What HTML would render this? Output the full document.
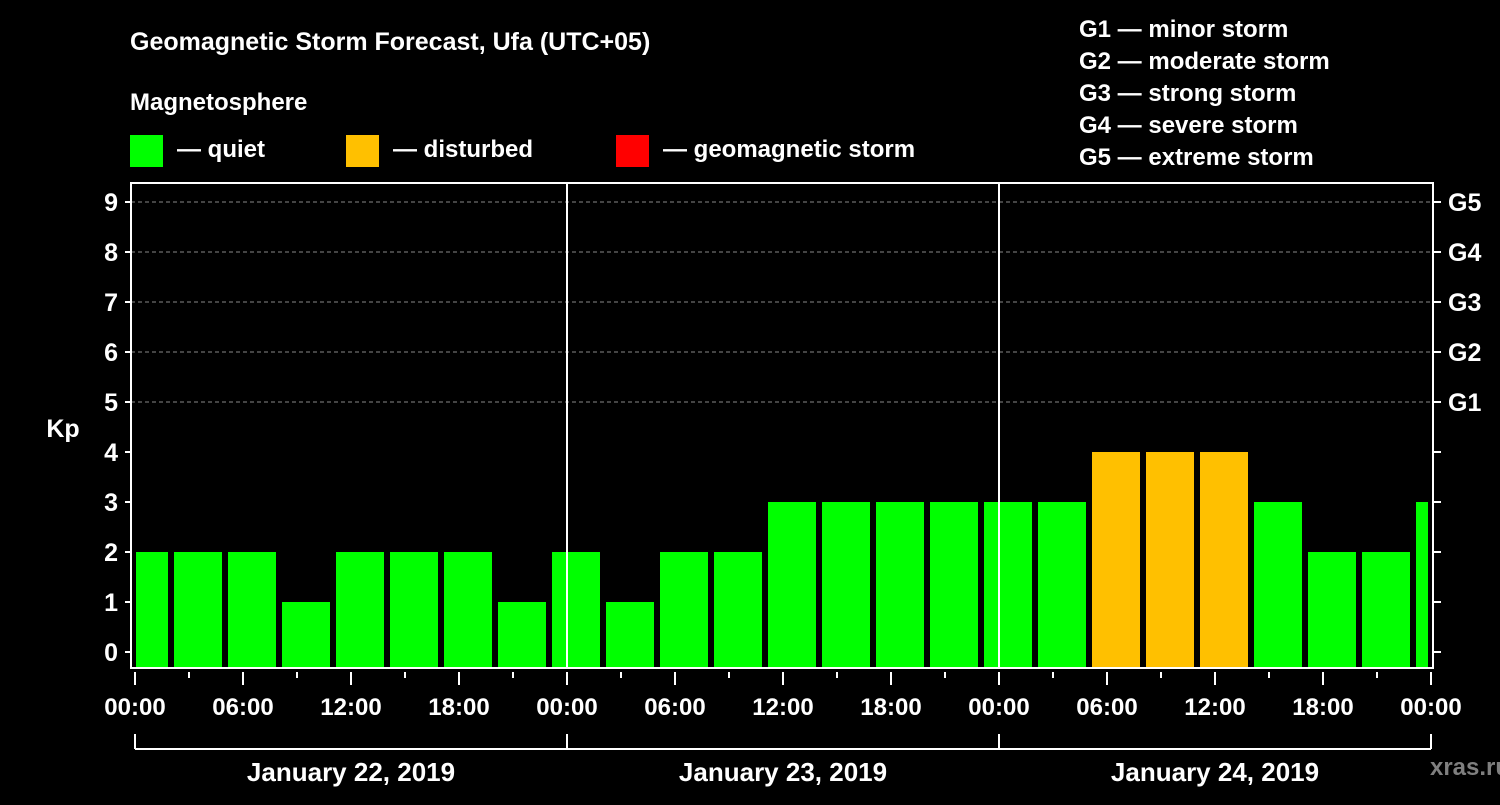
<!DOCTYPE html>
<html><head><meta charset="utf-8"><style>
body{margin:0;background:#000;width:1500px;height:800px;overflow:hidden}
svg text{font-family:"Liberation Sans",Arial,sans-serif;font-weight:bold;fill:#fff}
</style></head><body>
<svg id="c" width="1500" height="800">
<rect width="1500" height="800" fill="#000"/>
<text x="130" y="50" font-size="25">Geomagnetic Storm Forecast, Ufa (UTC+05)</text>
<text x="130" y="110" font-size="24">Magnetosphere</text>
<rect x="130" y="135" width="33" height="32" fill="#00ff00"/>
<text x="177" y="157" font-size="24">— quiet</text>
<rect x="346" y="135" width="33" height="32" fill="#ffc000"/>
<text x="393" y="157" font-size="24">— disturbed</text>
<rect x="616" y="135" width="33" height="32" fill="#ff0000"/>
<text x="663" y="157" font-size="24">— geomagnetic storm</text>
<g font-size="24">
<text x="1079" y="37">G1 — minor storm</text>
<text x="1079" y="69">G2 — moderate storm</text>
<text x="1079" y="101">G3 — strong storm</text>
<text x="1079" y="133">G4 — severe storm</text>
<text x="1079" y="165">G5 — extreme storm</text>
</g>
<text x="63" y="437" font-size="25" text-anchor="middle">Kp</text>
<text x="1470" y="775" font-size="24" text-anchor="middle" fill="#888" style="fill:#7f7f7f">xras.ru</text>
<g id="plot"></g>
</svg>
<script>
const kpValues=[2,2,2,1,2,2,2,1, 2,1,2,2,3,3,3,3, 3,3,4,4,4,3,2,2,3];
const hourLabels=["00:00","06:00","12:00","18:00"];
const dayLabels=["January 22, 2019","January 23, 2019","January 24, 2019"];
const gLabels=["G1","G2","G3","G4","G5"];
const L=131,R=1433,T=183,B=668,X0=135,PXH=18;
const xs=h=>X0+h*PXH, ys=k=>652-50*k;
const NS="http://www.w3.org/2000/svg",g=document.getElementById('plot');
function mk(t,a){const e=document.createElementNS(NS,t);for(const k in a)e.setAttribute(k,a[k]);g.appendChild(e);return e;}
// grid
for(let k=5;k<=9;k++){const e=mk('line',{x1:L,x2:R,y1:ys(k),y2:ys(k),stroke:'#888','stroke-dasharray':'4,3'});

}
// bars
kpValues.forEach((v,i)=>{const c=xs(0.5+3*i);let x1=Math.max(c-24,L+5),x2=Math.min(c+24,R-5);
const col=v>=5?'#ff0000':v>=4?'#ffc000':'#00ff00';
const e=mk('rect',{x:x1,y:ys(v),width:x2-x1,height:B-ys(v),fill:col});

});
// day separators
for(let d=1;d<3;d++){const e=mk('line',{x1:xs(24*d),x2:xs(24*d),y1:T,y2:B,stroke:'#fff','stroke-width':2});

}
const fr=mk('rect',{x:L,y:T,width:R-L,height:B-T,fill:'none',stroke:'#fff','stroke-width':2});


// y ticks
for(let k=0;k<=9;k++){mk('line',{x1:L-6,x2:L,y1:ys(k),y2:ys(k),stroke:'#fff','stroke-width':2});
mk('line',{x1:R,x2:R+8,y1:ys(k),y2:ys(k),stroke:'#fff','stroke-width':2});
const t=mk('text',{x:118,y:ys(k)+9,'font-size':25,'text-anchor':'end'});t.textContent=k;

}
gLabels.forEach((s,i)=>{const t=mk('text',{x:1448,y:ys(5+i)+9,'font-size':25});t.textContent=s;

});
// x ticks
for(let h=0;h<=72;h+=3){const major=h%6==0;mk('line',{x1:xs(h),x2:xs(h),y1:B+4,y2:B+(major?17:10),stroke:'#fff','stroke-width':2});
if(major){const t=mk('text',{x:xs(h),y:715,'font-size':24,'text-anchor':'middle'});t.textContent=hourLabels[(h/6)%4];

}}
// date bracket
mk('line',{x1:xs(0),x2:xs(72),y1:749,y2:749,stroke:'#fff','stroke-width':2});
for(let d=0;d<=3;d++)mk('line',{x1:xs(24*d),x2:xs(24*d),y1:734,y2:749,stroke:'#fff','stroke-width':2});
dayLabels.forEach((s,i)=>{const t=mk('text',{x:xs(24*i+12),y:781,'font-size':26,'text-anchor':'middle'});t.textContent=s;

});
</script>
</body></html>
